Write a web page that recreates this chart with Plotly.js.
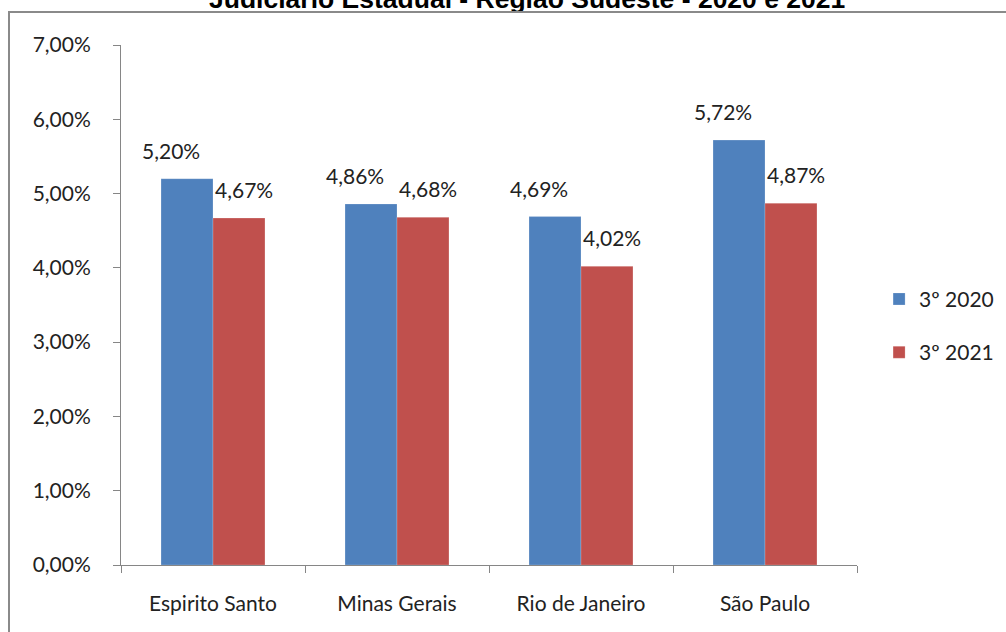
<!DOCTYPE html>
<html>
<head>
<meta charset="utf-8">
<script src="https://cdn.plot.ly/plotly-3.0.1.min.js"></script>
<style>
    body { margin: 0; background: #fff; }
    #graph { width: 1006px; height: 632px; }
    #frame {
        position: absolute; left: 8px; top: 11px; width: 1010px; height: 640px;
        border-left: 2px solid #8a8a8a; border-top: 2px solid #8a8a8a;
        pointer-events: none;
    }
</style>
</head>
<body>
<div id="graph"></div>
<div id="frame"></div>
<script>
const estados = ['Espirito Santo', 'Minas Gerais', 'Rio de Janeiro', 'São Paulo'];
const serie_2020 = [0.0520, 0.0486, 0.0469, 0.0572];
const serie_2021 = [0.0467, 0.0468, 0.0402, 0.0487];
const nomes = ['3º 2020', '3º 2021'];
const cores = ['#4f81bd', '#c0504d'];

const fonte = 'Lato, "Open Sans", sans-serif';

function fmt(v) {
    return (v * 100).toFixed(2).replace('.', ',') + '%';
}

let traces = [serie_2020, serie_2021].map((serie, i) => ({
    x: estados,
    y: serie,
    name: nomes[i],
    legendgroup: 'g' + i,
    type: 'bar',
    marker: { color: cores[i], line: { color: 'rgba(255,255,255,0.4)', width: 0.5 } },
    hoverinfo: 'skip'
}));

// rotulos de dados, deslocados como no grafico original
let rotulos = [];
estados.forEach((e, k) => {
    rotulos.push({ x: e, y: serie_2020[k], text: fmt(serie_2020[k]), xshift: -42, yshift: 14 });
    rotulos.push({ x: e, y: serie_2021[k], text: fmt(serie_2021[k]), xshift: 31, yshift: 14 });
});
rotulos = rotulos.map(a => Object.assign(a, {
    xref: 'x', yref: 'y', showarrow: false, yanchor: 'bottom',
    font: { family: fonte, size: 21, color: '#222' }
}));

let layout = {
    width: 1006,
    height: 632,
    margin: { l: 121, r: 149, t: 45, b: 67, autoexpand: false },
    paper_bgcolor: '#fff',
    plot_bgcolor: '#fff',
    separators: ',.',
    showlegend: true,
    bargap: 0.435,
    bargroupgap: 0,
    title: {
        text: 'Judiciário Estadual - Região Sudeste - 2020 e 2021',
        font: { family: 'Liberation Sans, Arial, sans-serif', size: 26.5, color: '#000', weight: 'bold' },
        x: 0.524, xanchor: 'center',
        yref: 'container', y: 1 - 8 / 632, yanchor: 'bottom'
    },
    xaxis: {
        type: 'category',
        tickson: 'boundaries',
        ticks: 'outside',
        ticklen: 7,
        tickcolor: '#868686',
        showline: true,
        linecolor: '#868686',
        linewidth: 1,
        showgrid: false,
        ticklabelstandoff: 20,
        tickfont: { family: fonte, size: 21, color: '#222' },
        fixedrange: true
    },
    yaxis: {
        range: [0, 0.07],
        dtick: 0.01,
        tickformat: '.2%',
        ticks: 'outside',
        ticklen: 7,
        tickcolor: '#868686',
        showline: true,
        linecolor: '#868686',
        linewidth: 1,
        showgrid: false,
        zeroline: false,
        ticklabelstandoff: 18,
        tickfont: { family: fonte, size: 21, color: '#222' },
        fixedrange: true
    },
    legend: {
        x: 1.03, xanchor: 'left',
        y: 0.46, yanchor: 'middle',
        font: { family: fonte, size: 21, color: '#222' },
        traceorder: 'grouped',
        tracegroupgap: 23,
        itemwidth: 30
    },
    annotations: rotulos
};

Plotly.newPlot('graph', traces, layout, { staticPlot: true });
</script>
</body>
</html>
